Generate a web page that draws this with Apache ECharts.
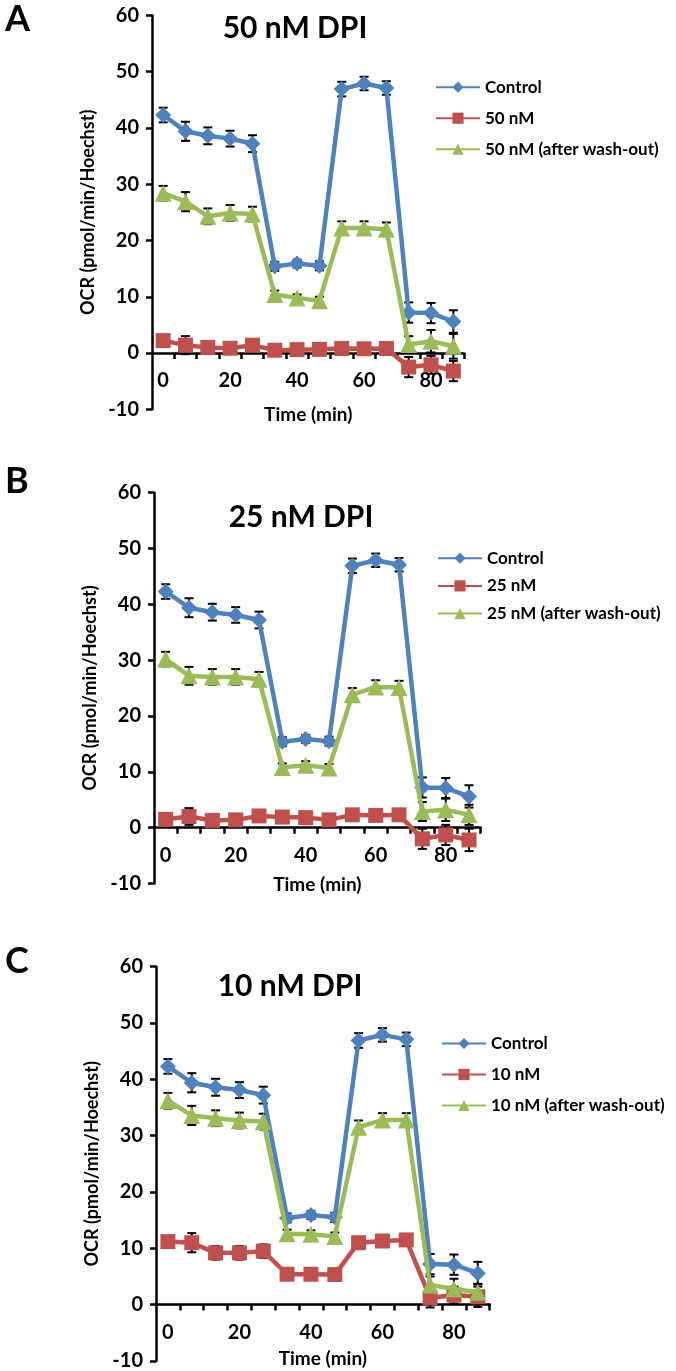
<!DOCTYPE html>
<html><head><meta charset="utf-8">
<script src="https://cdn.jsdelivr.net/npm/echarts@6/dist/echarts.min.js"></script>
<style>html,body{margin:0;padding:0;background:#fff}#c{width:676px;height:1371px}</style>
</head><body><div id="c"></div><script>
// ---- data ----
const times = [0, 6.67, 13.33, 20, 26.67, 33.33, 40, 46.67, 53.33, 60, 66.67, 73.33, 80, 86.67];
const xTickValues = [3.33, 10, 16.67, 23.33, 30, 36.67, 43.33, 50, 56.67, 63.33, 70, 76.67, 83.33, 90];
const xLabelValues = [0, 20, 40, 60, 80];
const panelLetters = ['A', 'B', 'C'];
const panelTitles = ['50 nM DPI', '25 nM DPI', '10 nM DPI'];
const seriesNamesA = ['Control', '50 nM', '50 nM (after wash-out)'];
const seriesNamesB = ['Control', '25 nM', '25 nM (after wash-out)'];
const seriesNamesC = ['Control', '10 nM', '10 nM (after wash-out)'];

const control    = [42.3, 39.4, 38.6, 38.1, 37.2, 15.4, 15.9, 15.5, 46.9, 47.9, 47.1, 7.2, 7.1, 5.6];
const controlErr = [1.3, 1.7, 1.5, 1.4, 1.5, 0.8, 0.7, 0.8, 1.3, 1.2, 1.2, 1.8, 1.8, 2.0];

const dpi50      = [2.2, 1.4, 1.0, 0.85, 1.4, 0.5, 0.6, 0.65, 0.8, 0.75, 0.8, -2.5, -2.1, -3.2];
const dpi50Err   = [0.8, 1.6, 1.0, 1.0, 1.0, 0.6, 0.6, 0.6, 0.6, 0.6, 0.6, 1.8, 1.6, 1.8];
const wash50     = [28.4, 26.9, 24.3, 24.9, 24.7, 10.4, 9.8, 9.3, 22.2, 22.2, 22.0, 1.5, 2.1, 1.2];
const wash50Err  = [1.3, 1.7, 1.4, 1.4, 1.3, 0.7, 0.6, 0.7, 1.2, 1.2, 1.2, 1.5, 2.0, 2.2];

const dpi25      = [1.5, 2.0, 1.3, 1.4, 2.1, 1.9, 1.8, 1.4, 2.3, 2.2, 2.3, -2.0, -1.3, -2.2];
const dpi25Err   = [0.8, 1.5, 1.0, 1.0, 1.0, 0.7, 0.7, 0.7, 0.7, 0.7, 0.7, 1.8, 1.8, 2.0];
const wash25     = [30.2, 27.2, 27.0, 27.0, 26.6, 10.8, 11.2, 10.7, 23.8, 25.2, 25.1, 2.9, 3.2, 2.3];
const wash25Err  = [1.3, 1.6, 1.4, 1.4, 1.3, 0.7, 0.7, 0.7, 1.2, 1.2, 1.2, 1.7, 2.0, 1.8];

const dpi10      = [11.2, 11.0, 9.2, 9.2, 9.5, 5.4, 5.4, 5.35, 11.0, 11.3, 11.5, 1.2, 1.7, 1.4];
const dpi10Err   = [1.0, 1.7, 1.2, 1.2, 1.2, 0.7, 0.7, 0.7, 0.8, 0.8, 0.8, 1.7, 1.5, 1.8];
const wash10     = [36.2, 33.6, 33.1, 32.7, 32.5, 12.6, 12.5, 12.1, 31.5, 32.8, 32.8, 3.5, 2.8, 2.2];
const wash10Err  = [1.4, 1.7, 1.4, 1.4, 1.4, 0.7, 0.7, 0.7, 1.2, 1.2, 1.2, 1.5, 1.8, 1.5];

// ---- layout / style ----
const FONT = 'Lato';
const COLORS = ['#4F81BD', '#C0504D', '#9BBB59'];
const SYMBOLS = ['diamond', 'rect', 'triangle'];
const SYMSIZE = [16, 15, 17];
const Y_MIN = -10, Y_MAX = 60;
const panels = [
  {names: seriesNamesA, data: [[control, controlErr], [dpi50, dpi50Err], [wash50, wash50Err]],
   grid: {left: 152, top: 15.4, width: 312.5, height: 393.9}, nameGap: 52,
   legend: {left: 430, top: 73.7, itemGap: 14}, title: {x: 290, y: 8}, letterY: -4},
  {names: seriesNamesB, data: [[control, controlErr], [dpi25, dpi25Err], [wash25, wash25Err]],
   grid: {left: 154, top: 492.7, width: 326.7, height: 390.8}, nameGap: 48,
   legend: {left: 432, top: 544.7, itemGap: 10.7}, title: {x: 296, y: 497}, letterY: 458},
  {names: seriesNamesC, data: [[control, controlErr], [dpi10, dpi10Err], [wash10, wash10Err]],
   grid: {left: 156, top: 966.7, width: 333.7, height: 396}, nameGap: 45,
   legend: {left: 436, top: 1030, itemGap: 14}, title: {x: 285, y: 966}, letterY: 938}
];

const axisStyle = {color: '#000', width: 2.5};
const boldText = (size) => ({fontFamily: FONT, fontWeight: 'bold', fontSize: size, color: '#000'});

function errRender(params, api) {
  const x = api.value(0), y = api.value(1), e = api.value(2);
  const t = api.coord([x, y + e]), b = api.coord([x, y - e]);
  const w = 4.5;
  const style = {stroke: '#000', lineWidth: 2};
  return {type: 'group', children: [
    {type: 'line', shape: {x1: t[0], y1: t[1], x2: b[0], y2: b[1]}, style},
    {type: 'line', shape: {x1: t[0] - w, y1: t[1], x2: t[0] + w, y2: t[1]}, style},
    {type: 'line', shape: {x1: b[0] - w, y1: b[1], x2: b[0] + w, y2: b[1]}, style}
  ]};
}

const grids = [], xAxes = [], yAxes = [], series = [], legends = [], titles = [];
panels.forEach((p, i) => {
  grids.push(Object.assign({containLabel: false}, p.grid));
  // x axis drawn at y = 0: shift it up from the grid bottom by the span from Y_MIN to 0
  const zeroOffset = -p.grid.height * (0 - Y_MIN) / (Y_MAX - Y_MIN);
  xAxes.push({
    gridIndex: i, type: 'value', min: -10 / 3, max: 90, offset: zeroOffset,
    axisLine: {onZero: false, lineStyle: axisStyle},
    axisTick: {show: true, customValues: xTickValues, length: 6, lineStyle: axisStyle},
    axisLabel: Object.assign({customValues: xLabelValues, margin: 18}, boldText(20)),
    splitLine: {show: false},
    name: 'Time (min)', nameLocation: 'middle', nameGap: p.nameGap,
    nameTextStyle: boldText(19)
  });
  yAxes.push({
    gridIndex: i, type: 'value', min: Y_MIN, max: Y_MAX, interval: 10,
    axisLine: {show: true, onZero: false, lineStyle: axisStyle},
    axisTick: {show: true, length: 6, lineStyle: axisStyle},
    axisLabel: Object.assign({margin: 13}, boldText(20)),
    splitLine: {show: false},
    name: 'OCR (pmol/min/Hoechst)', nameLocation: 'middle', nameGap: 55,
    nameTextStyle: boldText(18)
  });
  p.data.forEach((d, k) => {
    series.push({
      type: 'custom', name: 'err' + i + k, xAxisIndex: i, yAxisIndex: i,
      renderItem: errRender, encode: {x: 0, y: 1}, z: 1, silent: true,
      data: times.map((t, j) => [t, d[0][j], d[1][j]])
    });
  });
  p.data.forEach((d, k) => {
    series.push({
      type: 'line', name: p.names[k], xAxisIndex: i, yAxisIndex: i, z: 2 + k,
      symbol: SYMBOLS[k], symbolSize: SYMSIZE[k], showAllSymbol: true,
      color: COLORS[k], lineStyle: {color: COLORS[k], width: 4.5},
      itemStyle: {color: COLORS[k]}, animation: false,
      data: times.map((t, j) => [t, d[0][j]])
    });
  });
  legends.push({
    data: p.names, orient: 'vertical', left: p.legend.left, top: p.legend.top,
    itemWidth: 44, itemHeight: 14, itemGap: p.legend.itemGap, selectedMode: false,
    textStyle: boldText(17)
  });
  titles.push({text: panelLetters[i], left: 0, top: p.letterY, textStyle: boldText(36)});
  titles.push({text: panelTitles[i], left: p.title.x, top: p.title.y, textAlign: 'center',
               textStyle: boldText(30)});
});

const chart = echarts.init(document.getElementById('c'), null, {renderer: 'canvas'});
chart.setOption({
  animation: false, backgroundColor: '#fff',
  title: titles, grid: grids, xAxis: xAxes, yAxis: yAxes, legend: legends, series: series
});
</script></body></html>
